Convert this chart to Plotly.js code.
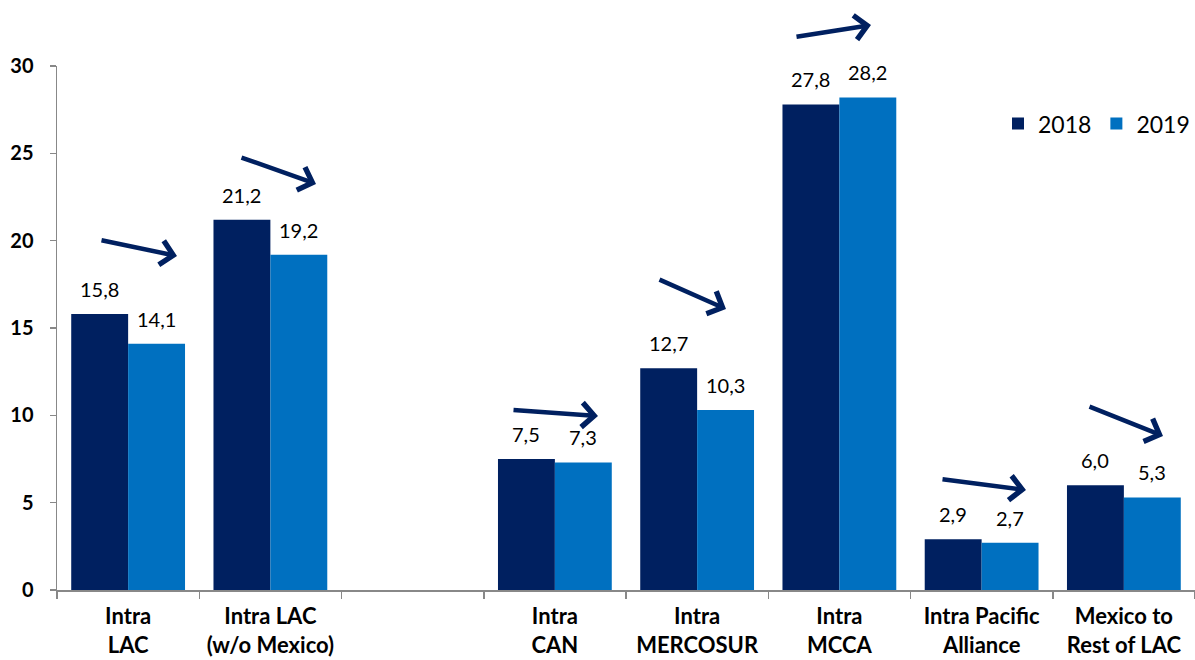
<!DOCTYPE html>
<html><head><meta charset="utf-8">
<script src="https://cdn.plot.ly/plotly-3.0.1.min.js"></script>
<style>html,body{margin:0;padding:0;background:#fff}#chart{width:1195px;height:660px}</style>
</head><body><div id="chart"></div>
<script>
// Data
const categories = ["Intra<br>LAC", "Intra LAC<br>(w/o Mexico)", " ", "Intra<br>CAN", "Intra<br>MERCOSUR", "Intra<br>MCCA", "Intra Pacific<br>Alliance", "Mexico to<br>Rest of LAC"];
const values2018 = [15.8, 21.2, null, 7.5, 12.7, 27.8, 2.9, 6.0];
const values2019 = [14.1, 19.2, null, 7.3, 10.3, 28.2, 2.7, 5.3];
const seriesNames = ["2018", "2019"];
const yTicks = [0, 5, 10, 15, 20, 25, 30];

// Styling
const colors = ["#002060", "#0070C0"];
const FONT = "Lato, 'Open Sans', sans-serif";
const W = 1195, H = 660, ML = 57, MR = 0, MT = 66, MB = 70;
const plotW = W - ML - MR, plotH = H - MT - MB;
const barShift = plotW / categories.length * 0.8 / 4;

// decorative arrows (pixel tail -> pixel head)
const arrowPx = [
  [100, 240, 177, 256],
  [240, 157, 316, 184],
  [512, 410, 598, 416],
  [658, 279, 726, 309],
  [795, 37, 871, 25],
  [941, 479, 1026, 490],
  [1088, 406, 1163, 436]
];

const fmt = v => v.toFixed(1).replace('.', ',');

const traces = [values2018, values2019].map((vals, i) => ({
  type: 'bar',
  name: seriesNames[i],
  x: categories,
  y: vals,
  marker: {color: colors[i]},
  hoverinfo: 'x+y'
}));

const annotations = [];
[values2018, values2019].forEach((vals, i) => {
  vals.forEach((v, j) => {
    if (v === null) return;
    annotations.push({
      x: categories[j], y: v, xref: 'x', yref: 'y',
      text: fmt(v), showarrow: false,
      xshift: i === 0 ? -barShift : barShift,
      yshift: 25, yanchor: 'middle',
      font: {family: FONT, size: 20, color: '#000'}
    });
  });
});
arrowPx.forEach(([tx, ty, hx, hy]) => {
  annotations.push({
    xref: 'paper', yref: 'paper',
    x: (hx - ML) / plotW, y: (H - MB - hy) / plotH,
    ax: tx - hx, ay: ty - hy,
    text: '', showarrow: true,
    arrowhead: 4, arrowsize: 1.05, arrowwidth: 4.5, arrowcolor: '#002060',
    standoff: 0, startstandoff: 0
  });
});

const layout = {
  width: W, height: H,
  margin: {l: ML, r: MR, t: MT, b: MB, pad: 0},
  paper_bgcolor: '#fff', plot_bgcolor: '#fff',
  barmode: 'group', bargap: 0.2, bargroupgap: 0,
  font: {family: FONT, color: '#000'},
  showlegend: true,
  legend: {
    orientation: 'h', x: 1, xanchor: 'right', y: 0.89, yanchor: 'middle',
    font: {family: FONT, size: 23, color: '#000'},
    bgcolor: 'rgba(0,0,0,0)', itemwidth: 30, tracegroupgap: 0
  },
  xaxis: {
    type: 'category', categoryorder: 'array', categoryarray: categories,
    showgrid: false, zeroline: false,
    showline: true, linecolor: '#888', linewidth: 1.5,
    ticks: 'outside', tickson: 'boundaries', ticklen: 7, tickcolor: '#888', tickwidth: 1.5,
    tickfont: {family: FONT, size: 22, color: '#000', weight: 'bold'},
    ticklabelstandoff: 6
  },
  yaxis: {
    range: [0, 30], tickvals: yTicks, ticktext: yTicks.map(String),
    showgrid: false, zeroline: false,
    showline: true, linecolor: '#888', linewidth: 1.5,
    ticks: 'outside', ticklen: 6, tickcolor: '#888', tickwidth: 1.5,
    tickfont: {family: FONT, size: 20, color: '#000', weight: 'bold'},
    ticklabelstandoff: 12
  },
  annotations: annotations
};

Plotly.newPlot('chart', traces, layout, {staticPlot: true, displayModeBar: false});
</script></body></html>
